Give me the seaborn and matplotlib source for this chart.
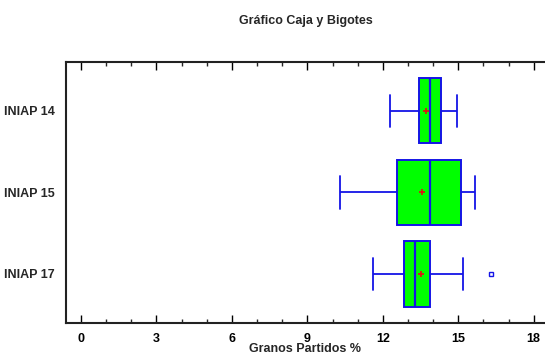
import matplotlib
matplotlib.use("Agg")
import matplotlib.pyplot as plt
from matplotlib.ticker import MultipleLocator
import seaborn as sns
import pandas as pd

categories = ["INIAP 14", "INIAP 15", "INIAP 17"]
iniap14 = [12.27, 12.60, 13.44, 13.55, 13.87, 13.95, 14.33, 14.41, 14.97]
iniap15 = [10.28, 11.46, 12.57, 13.20, 13.87, 14.50, 15.12, 15.30, 15.65]
iniap17 = [11.61, 12.00, 12.84, 13.00, 13.29, 13.46, 13.87, 15.20, 16.32]
xticks = [0, 3, 6, 9, 12, 15, 18]

df = pd.DataFrame({
    "Variedad": [categories[0]] * len(iniap14) + [categories[1]] * len(iniap15) + [categories[2]] * len(iniap17),
    "Valor": iniap14 + iniap15 + iniap17,
})

sns.set_style("white")
plt.rcParams["font.family"] = ["Liberation Sans", "DejaVu Sans"]

fig = plt.figure(figsize=(5.45, 3.56), dpi=100)
ax = fig.add_axes([0.121, 0.093, 0.879, 0.733])

blue = "#1414e6"
sns.boxplot(
    data=df, x="Valor", y="Variedad", order=categories, orient="h",
    width=0.8, ax=ax, whis=1.5, showmeans=True,
    boxprops=dict(facecolor="#00ff00", edgecolor=blue, linewidth=1.4),
    whiskerprops=dict(color=blue, linewidth=1.3),
    capprops=dict(color=blue, linewidth=1.3),
    medianprops=dict(color=blue, linewidth=1.6),
    meanprops=dict(marker="+", markeredgecolor="#e01010", markersize=5, markeredgewidth=1.2),
    flierprops=dict(marker="s", markerfacecolor="none", markeredgecolor=blue, markersize=3.5, markeredgewidth=1),
)

ax.set_xlim(-0.6, 18.45)
ax.set_ylim(2.6, -0.6)
ax.set_xticks(xticks)
ax.set_xticklabels([str(t) for t in xticks], fontweight="bold", fontsize=9)
ax.xaxis.set_minor_locator(MultipleLocator(1))
ax.tick_params(axis="x", which="major", direction="in", length=6, width=1, top=True, bottom=True, pad=7, colors="black")
ax.tick_params(axis="x", which="minor", direction="in", length=3, width=1, top=True, bottom=True)
ax.tick_params(axis="y", length=0, pad=8)
for lbl in ax.get_yticklabels():
    lbl.set_fontweight("bold")
    lbl.set_fontsize(9)

ax.set_xlabel("Granos Partidos %", fontweight="bold", fontsize=9, labelpad=-1)
ax.set_ylabel("")
ax.set_title("Gráfico Caja y Bigotes", fontweight="bold", fontsize=9, pad=27)

for s in ["left", "top", "bottom"]:
    ax.spines[s].set_color("#222222")
    ax.spines[s].set_linewidth(1.5)
    ax.spines[s].set_visible(True)
ax.spines["right"].set_visible(False)

fig.savefig("out.png", dpi=100)
